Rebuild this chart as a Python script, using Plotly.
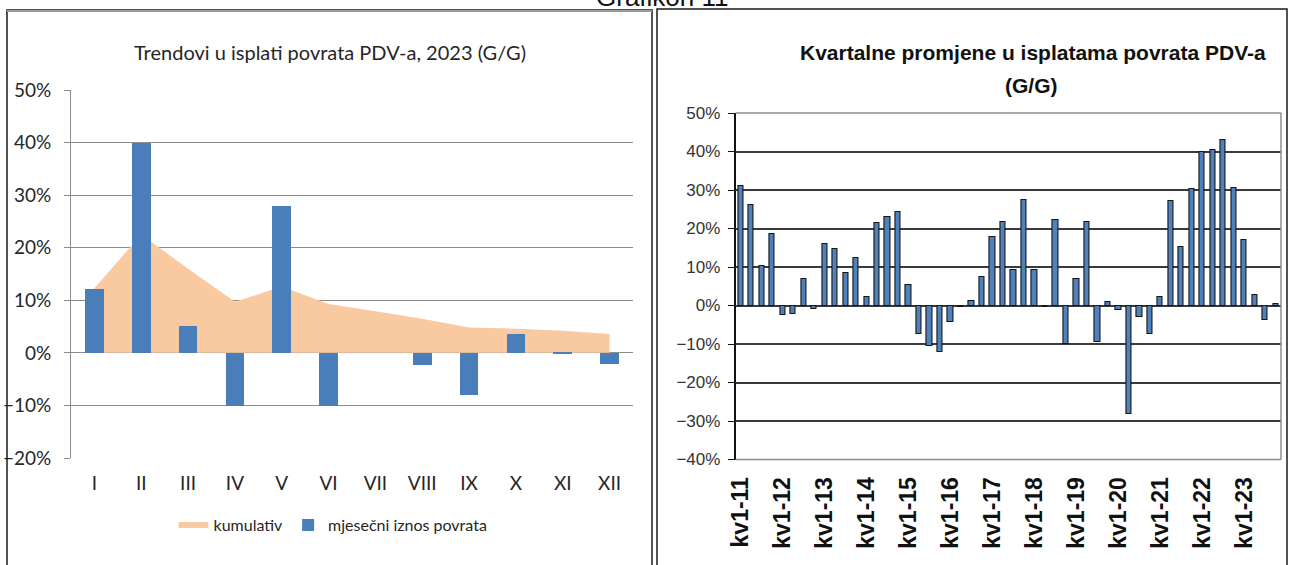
import plotly.graph_objects as go

W, H = 1289, 565

# ---------------- data ----------------
months = ["I", "II", "III", "IV", "V", "VI", "VII", "VIII", "IX", "X", "XI", "XII"]
monthly = [12.2, 40.0, 5.1, -10.1, 28.0, -10.1, 0.0, -2.4, -8.1, 3.6, -0.3, -2.2]
cumulative = [12.3, 22.5, 16.0, 9.7, 12.6, 9.3, 7.9, 6.5, 4.8, 4.6, 4.2, 3.6]

years = list(range(11, 24))
quarters = [f"kv{q}-{y}" for y in years for q in range(1, 5)]
quarterly = [
    31.0, 26.0, 10.3, 18.7,    # 2011
    -2.4, -2.2, 7.0, -0.9,     # 2012
    16.1, 14.7, 8.4, 12.3,     # 2013
    2.1, 21.4, 22.9, 24.2,     # 2014
    5.4, -7.5, -10.4, -12.1,   # 2015
    -4.4, -0.5, 1.3, 7.4,      # 2016
    17.8, 21.7, 9.1, 27.4,     # 2017
    9.1, -0.3, 22.2, -10.0,    # 2018
    6.8, 21.7, -9.4, 1.0,      # 2019
    -1.1, -28.1, -3.0, -7.5,   # 2020
    2.2, 27.1, 15.2, 30.2,     # 2021
    39.8, 40.4, 43.0, 30.4,    # 2022
    17.0, 2.6, -3.7, 0.3,      # 2023
]
quarter_labels = quarters[::4]

left_title = "Trendovi u isplati povrata PDV-a, 2023 (G/G)"
right_title_1 = "Kvartalne promjene u isplatama povrata PDV-a"
right_title_2 = "(G/G)"
header = "Grafikon 11"

# ---------------- geometry helpers ----------------
def fx(p):
    return p / W

def fy(p):
    return 1 - p / H

L_X = [71, 633]
L_Y = [90, 458]      # top (50%), bottom (-20%)
L_RANGE = [-20, 50]
R_X = [735.5, 1281]
R_Y = [113, 459.5]   # top (50%), bottom (-40%)
R_RANGE = [-40, 50]

def zero_pos(ydom_px, yr):
    bottom = fy(ydom_px[1])
    top = fy(ydom_px[0])
    return bottom + (top - bottom) * (0 - yr[0]) / (yr[1] - yr[0])

NARROW = "Liberation Sans Narrow, Arial Narrow, Lato, sans-serif"
ARIAL = "Liberation Sans, Arial, sans-serif"

fig = go.Figure()

# left chart: area (behind) + bars (overlay axes so they sit on top)
fig.add_trace(go.Scatter(
    x=months, y=cumulative, name="kumulativ", mode="none",
    fill="tozeroy", fillcolor="#F9C9A0", xaxis="x", yaxis="y",
    hoverinfo="skip"))
fig.add_trace(go.Bar(
    x=months, y=monthly, name="mjesečni iznos povrata",
    marker=dict(color="#4A7EBB", line=dict(width=0)), width=0.4,
    xaxis="x5", yaxis="y5"))

# right chart
fig.add_trace(go.Bar(
    x=quarters, y=quarterly, showlegend=False,
    marker=dict(color="#4F81BD", line=dict(color="#151515", width=1.1)),
    width=0.5, xaxis="x2", yaxis="y2"))

nL = len(months)
nR = len(quarters)

fig.update_layout(
    width=W, height=H,
    margin=dict(l=0, r=0, t=0, b=0, pad=0, autoexpand=False),
    paper_bgcolor="white", plot_bgcolor="white",
    showlegend=True,
    legend=dict(orientation="h", x=fx(333), y=fy(525), xanchor="center",
                yanchor="middle", font=dict(family=NARROW, size=16, color="#262626"),
                bgcolor="rgba(0,0,0,0)", itemwidth=30, tracegroupgap=0),
    bargap=0,
    # ---- left chart axes ----
    xaxis=dict(domain=[fx(L_X[0]), fx(L_X[1])], anchor="y", type="category",
               categoryorder="array", categoryarray=months, automargin=False,
               range=[-0.5, nL - 0.5], ticks="", showline=False, showgrid=False,
               zeroline=False, ticklabelstandoff=12,
               tickfont=dict(family=NARROW, size=19, color="#262626")),
    yaxis=dict(domain=[fy(L_Y[1]), fy(L_Y[0])], anchor="x", range=L_RANGE,
               dtick=10, ticksuffix="%", showgrid=True, gridcolor="#8C8C8C",
               gridwidth=1, showline=True, linecolor="#8C8C8C", linewidth=1,
               ticks="outside", ticklen=6, tickcolor="#8C8C8C", zeroline=False,
               ticklabelstandoff=9, automargin=False,
               tickfont=dict(family=NARROW, size=19, color="#262626")),
    xaxis3=dict(overlaying="x", anchor="free", position=zero_pos(L_Y, L_RANGE),
                type="linear", range=[-0.5, nL - 0.5], automargin=False,
                tickvals=[i - 0.5 for i in range(nL + 1)], ticks="outside",
                ticklen=6, tickcolor="#8C8C8C", showline=True,
                linecolor="#8C8C8C", linewidth=1, showticklabels=False,
                showgrid=False, zeroline=False),
    xaxis5=dict(overlaying="x", anchor="y5", type="category",
                categoryorder="array", categoryarray=months, automargin=False,
                range=[-0.5, nL - 0.5], visible=False),
    yaxis5=dict(overlaying="y", anchor="x5", range=L_RANGE, visible=False,
                automargin=False),
    # ---- right chart axes ----
    xaxis2=dict(domain=[fx(R_X[0]), fx(R_X[1])], anchor="y2", type="category",
                categoryorder="array", categoryarray=quarters, automargin=False,
                range=[-0.5, nR - 0.5], tickvals=quarter_labels, tickangle=-90,
                ticks="", showline=False, showgrid=False, zeroline=False,
                ticklabelstandoff=12,
                tickfont=dict(family=ARIAL, size=23, color="#111111", weight="bold")),
    yaxis2=dict(domain=[fy(R_Y[1]), fy(R_Y[0])], anchor="x2", range=R_RANGE,
                dtick=10, ticksuffix="%", showgrid=True, gridcolor="#3A3A3A",
                gridwidth=1.5, showline=True, linecolor="#111111", linewidth=1.5,
                ticks="outside", ticklen=6, tickcolor="#111111", zeroline=False,
                ticklabelstandoff=4, automargin=False,
                tickfont=dict(family=ARIAL, size=17, color="#333333")),
    xaxis4=dict(overlaying="x2", anchor="free", position=zero_pos(R_Y, R_RANGE),
                type="linear", range=[-0.5, nR - 0.5], automargin=False,
                tickvals=[i - 0.5 for i in range(nR + 1)], ticks="outside",
                ticklen=4, tickcolor="#111111", showline=True,
                linecolor="#111111", linewidth=1.5, showticklabels=False,
                showgrid=False, zeroline=False),
)

# right plot-area border (top, right, bottom) in gray
border_gray = "#8C8C8C"
shapes = [
    dict(type="line", xref="paper", yref="paper", x0=fx(R_X[0]), x1=fx(R_X[1]),
         y0=fy(R_Y[0]), y1=fy(R_Y[0]), line=dict(color=border_gray, width=1.5)),
    dict(type="line", xref="paper", yref="paper", x0=fx(R_X[1]), x1=fx(R_X[1]),
         y0=fy(R_Y[0]), y1=fy(R_Y[1]), line=dict(color=border_gray, width=1.5)),
    dict(type="line", xref="paper", yref="paper", x0=fx(R_X[0]), x1=fx(R_X[1]),
         y0=fy(R_Y[1]), y1=fy(R_Y[1]), line=dict(color=border_gray, width=1.5)),
    # panel frames
    dict(type="rect", xref="paper", yref="paper", x0=fx(7), x1=fx(652),
         y0=fy(580), y1=fy(10), line=dict(color="#1a1a1a", width=1.5)),
    dict(type="line", xref="paper", yref="paper", x0=fx(7), x1=fx(652),
         y0=fy(11), y1=fy(11), line=dict(color="#9a9a9a", width=2)),
    dict(type="rect", xref="paper", yref="paper", x0=fx(657), x1=fx(1287),
         y0=fy(580), y1=fy(9), line=dict(color="#1a1a1a", width=1.5)),
]
fig.update_layout(shapes=shapes)

fig.update_layout(annotations=[
    dict(text=header, xref="paper", yref="paper", x=fx(662), y=fy(-3),
         xanchor="center", yanchor="middle", showarrow=False,
         font=dict(family=ARIAL, size=26, color="#111111")),
    dict(text=left_title, xref="paper", yref="paper", x=fx(330), y=fy(52),
         xanchor="center", yanchor="middle", showarrow=False,
         font=dict(family=NARROW, size=20, color="#262626")),
    dict(text=right_title_1, xref="paper", yref="paper", x=fx(1033), y=fy(52),
         xanchor="center", yanchor="middle", showarrow=False,
         font=dict(family=ARIAL, size=21, color="#111111", weight="bold")),
    dict(text=right_title_2, xref="paper", yref="paper", x=fx(1031), y=fy(85),
         xanchor="center", yanchor="middle", showarrow=False,
         font=dict(family=ARIAL, size=21, color="#111111", weight="bold")),
])

fig.write_html("out.html", config={"displayModeBar": False},
               post_script="document.body.style.margin='0px';")
